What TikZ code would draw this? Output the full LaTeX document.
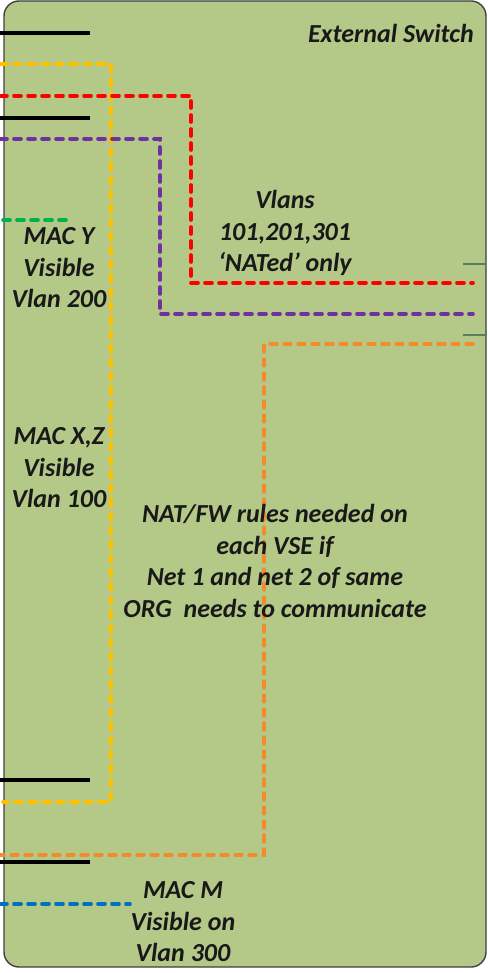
\documentclass[tikz,border=0pt]{standalone}
\usepackage{fontspec}
\setmainfont{Carlito}
\begin{document}
\begin{tikzpicture}[x=1pt,y=-1pt,
  lbl/.style={font=\fontsize{26}{31.5}\selectfont\bfseries\itshape, text=black!90, align=center, inner sep=0pt},
  link/.style={line width=3.6pt, dash pattern=on 7pt off 7pt, line cap=round},
  wire/.style={line width=3.6pt, black},
  stub/.style={line width=1.5pt, draw=black!55!green!25!gray}]
\definecolor{swfill}{HTML}{B4C988}
\definecolor{cYel}{HTML}{FFC000}
\definecolor{cRed}{HTML}{FF0000}
\definecolor{cPur}{HTML}{7030A0}
\definecolor{cGrn}{HTML}{00B050}
\definecolor{cOra}{HTML}{F58A2C}
\definecolor{cBlu}{HTML}{0070C0}
\useasboundingbox (0,0) rectangle (487,973);

% switch body
\draw[fill=swfill, draw=black!75, line width=1.4pt, rounded corners=15pt] (4,1) rectangle (486,967);

% end points on the left side
\coordinate (kA0) at (0,33);   \coordinate (kA1) at (90,33);
\coordinate (kB0) at (0,118);  \coordinate (kB1) at (90,118);
\coordinate (kC0) at (0,780);  \coordinate (kC1) at (90,780);
\coordinate (kD0) at (0,862);  \coordinate (kD1) at (90,862);
\coordinate (y0) at (0,64);    \coordinate (y1) at (111,64);
\coordinate (y2) at (111,802); \coordinate (y3) at (3,802);
\coordinate (r0) at (0,96);    \coordinate (r1) at (191,96);
\coordinate (r2) at (191,283); \coordinate (r3) at (473,283);
\coordinate (p0) at (0,139);   \coordinate (p1) at (160,139);
\coordinate (p2) at (160,314); \coordinate (p3) at (473,314);
\coordinate (g0) at (3,220);   \coordinate (g1) at (69,220);
\coordinate (o0) at (473,344); \coordinate (o1) at (264,344);
\coordinate (o2) at (264,855); \coordinate (o3) at (0,855);
\coordinate (b0) at (0,904);   \coordinate (b1) at (130,904);
\coordinate (s0) at (463,264); \coordinate (s1) at (487,264);
\coordinate (t0) at (463,335); \coordinate (t1) at (487,335);

% solid black links
\draw[wire] (kA0) -- (kA1);
\draw[wire] (kB0) -- (kB1);
\draw[wire] (kC0) -- (kC1);
\draw[wire] (kD0) -- (kD1);

% vlan paths
\draw[link, cYel] (y0) -- (y1) -- (y2) -- (y3);
\draw[link, cRed] (r0) -- (r1) -- (r2) -- (r3);
\draw[link, cPur] (p0) -- (p1) -- (p2) -- (p3);
\draw[link, cGrn] (g0) -- (g1);
\draw[link, cOra, line width=3.2pt] (o0) -- (o1) -- (o2) -- (o3);
\draw[link, cBlu] (b0) -- (b1);

% short uplink stubs on the right
\draw[stub] (s0) -- (s1);
\draw[stub] (t0) -- (t1);

% labels
\node[lbl, anchor=east] (title) at (474,33) {External Switch};
\node[lbl] (vl) at (285,233) {Vlans\\101,201,301\\‘NATed’ only};
\node[lbl] (macy) at (59,268) {MAC Y\\Visible\\Vlan 200};
\node[lbl] (macxz) at (59,468) {MAC X,Z\\Visible\\Vlan 100};
\node[lbl] (nat) at (275,561) {NAT/FW rules needed on\\each VSE if\\Net 1 and net 2 of same\\ORG\ \ needs to communicate};
\node[lbl] (macm) at (183,922) {MAC M\\Visible on\\Vlan 300};
\end{tikzpicture}
\end{document}
